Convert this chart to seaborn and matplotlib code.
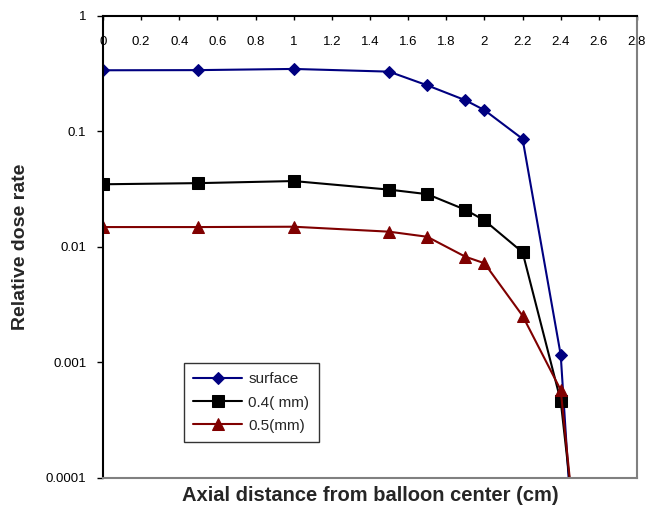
import numpy as np
import matplotlib
matplotlib.use("Agg")
import matplotlib.pyplot as plt
import seaborn as sns
import pandas as pd

# values
dist = [0, 0.5, 1.0, 1.5, 1.7, 1.9, 2.0, 2.2, 2.4, 2.45]
surface = [0.336, 0.337, 0.345, 0.327, 0.249, 0.185, 0.152, 0.0857, 0.00116, 0.00006]
mm04 = [0.0347, 0.0355, 0.037, 0.0312, 0.0285, 0.0209, 0.0169, 0.00896, 0.000464, 0.000085]
mm05 = [0.0148, 0.0148, 0.0149, 0.0135, 0.0122, 0.0082, 0.0072, 0.00253, 0.000577, 0.00009]
series_names = ["surface", "0.4( mm)", "0.5(mm)"]

x_ticks = [0, 0.2, 0.4, 0.6, 0.8, 1.0, 1.2, 1.4, 1.6, 1.8, 2.0, 2.2, 2.4, 2.6, 2.8]
x_labels = ["0", "0.2", "0.4", "0.6", "0.8", "1", "1.2", "1.4", "1.6", "1.8", "2", "2.2", "2.4", "2.6", "2.8"]
y_ticks = [0.0001, 0.001, 0.01, 0.1, 1]
y_labels = ["0.0001", "0.001", "0.01", "0.1", "1"]

df = pd.DataFrame({
    "x": dist * 3,
    "y": surface + mm04 + mm05,
    "series": [series_names[0]] * len(dist) + [series_names[1]] * len(dist) + [series_names[2]] * len(dist),
})

sns.set_style("white")
plt.rcParams["font.family"] = ["Liberation Sans", "DejaVu Sans"]

fig = plt.figure(figsize=(6.48, 5.14), dpi=100)
ax = fig.add_axes([103 / 648, 1 - 478 / 514, 534 / 648, 462.5 / 514])

colors = {"surface": "#000080", "0.4( mm)": "#000000", "0.5(mm)": "#800000"}
markers = {"surface": "D", "0.4( mm)": "s", "0.5(mm)": "^"}
sizes = {"surface": 6, "0.4( mm)": 8, "0.5(mm)": 8}

for name in series_names:
    sub = df[df["series"] == name]
    sns.lineplot(data=sub, x="x", y="y", ax=ax, color=colors[name], marker=markers[name],
                 markersize=sizes[name], markeredgecolor=colors[name], linewidth=1.5,
                 label=name, estimator=None, sort=False)

ax.set_yscale("log")
ax.set_xlim(0, 2.8)
ax.set_ylim(0.0001, 1)
ax.set_yticks(y_ticks)
ax.set_yticklabels(y_labels)
ax.minorticks_off()
ax.set_xticks(x_ticks)
ax.set_xticklabels(x_labels)

ax.tick_params(axis="x", top=True, bottom=False, labeltop=True, labelbottom=False,
               direction="in", length=3, width=1, pad=-15, labelsize=9.5, colors="#000000")
for t in ax.xaxis.get_major_ticks():
    t.label2.set_va("top")
ax.tick_params(axis="y", left=True, direction="out", length=4, width=1, pad=8,
               labelsize=9.5, colors="#000000")

for s in ["left", "top"]:
    ax.spines[s].set_color("#000000")
    ax.spines[s].set_linewidth(1.5)
for s in ["right", "bottom"]:
    ax.spines[s].set_color("#808080")
    ax.spines[s].set_linewidth(1.5)

ax.set_xlabel("Axial distance from balloon center (cm)", fontsize=14.5, fontweight="bold", labelpad=6)
ax.set_ylabel("Relative dose rate", fontsize=14, fontweight="bold", labelpad=12)

leg = ax.legend(loc="lower left", bbox_to_anchor=(0.152, 0.078), borderaxespad=0,
                frameon=True, fancybox=False, fontsize=11, handlelength=3.2,
                handletextpad=0.4, labelspacing=0.6, borderpad=0.6)
leg.get_frame().set_edgecolor("#000000")
leg.get_frame().set_linewidth(1)

fig.savefig("out.png", dpi=100)
